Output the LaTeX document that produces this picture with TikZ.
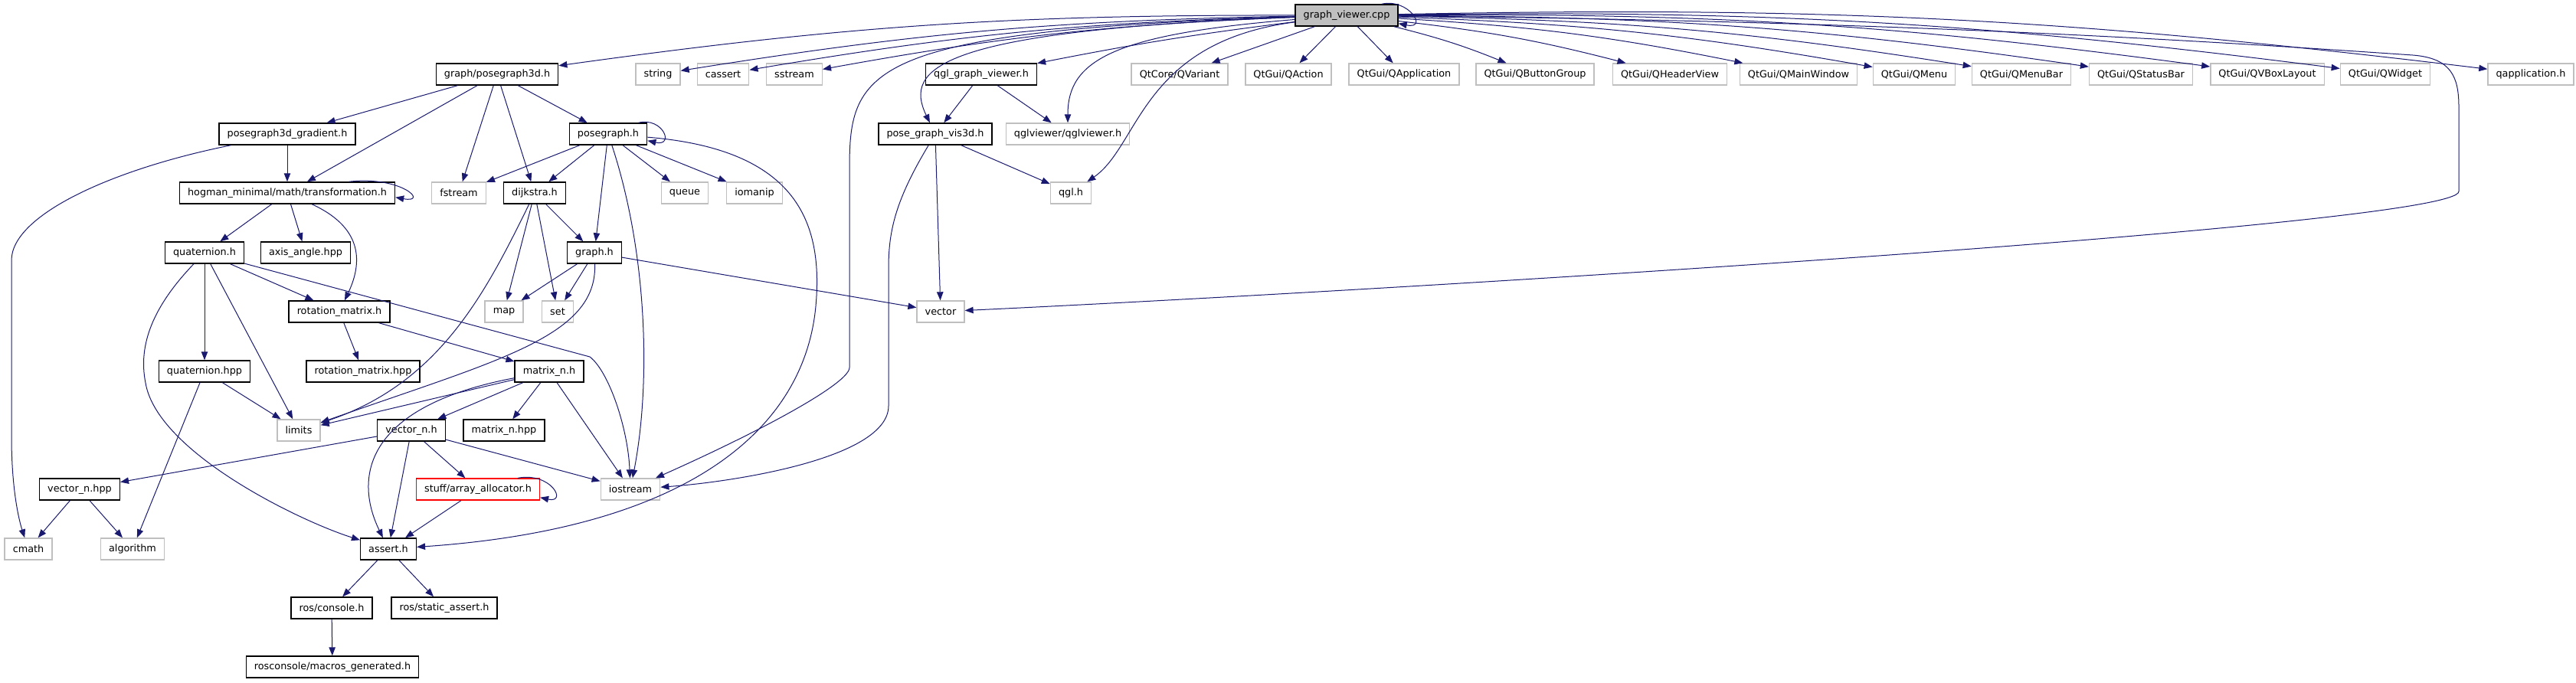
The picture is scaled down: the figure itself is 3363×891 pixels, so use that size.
\documentclass[tikz,border=0pt]{standalone}
\usepackage{fontspec}
\setmainfont{DejaVu Sans}
\usetikzlibrary{arrows.meta}
\definecolor{edgeblue}{HTML}{191970}
\definecolor{extgray}{HTML}{BFBFBF}

\begin{document}
\begin{tikzpicture}[x=0.5pt,y=-0.5pt]
\tikzstyle{every node}=[font={\fontsize{6.4}{7.7}\selectfont}, rectangle, minimum height=14pt, inner xsep=5.3pt, inner ysep=0pt]
\tikzstyle{file}=[draw=black, line width=0.7pt, fill=white]
\tikzstyle{sysfile}=[draw=extgray, line width=0.7pt, fill=white]
\tikzstyle{mainfile}=[draw=black, line width=0.7pt, fill=extgray]
\tikzstyle{badfile}=[draw=red, line width=0.7pt, fill=white]
\tikzstyle{inc}=[draw=edgeblue, line width=0.5pt, -{Triangle[length=5.5pt,width=4.2pt]}]

\useasboundingbox (0,0) rectangle (3363,891);

\node[mainfile] (gv) at (1758,20) {graph\_viewer.cpp};

\node[file] (pg3d) at (649,97) {graph/posegraph3d.h};
\node[sysfile] (string) at (859,97) {string};
\node[sysfile] (cassert) at (944,97) {cassert};
\node[sysfile] (sstream) at (1037,97) {sstream};
\node[file] (qglgv) at (1281,97) {qgl\_graph\_viewer.h};
\node[sysfile] (qvariant) at (1540,97) {QtCore/QVariant};
\node[sysfile] (qaction) at (1682,97) {QtGui/QAction};
\node[sysfile] (qapplication) at (1833,97) {QtGui/QApplication};
\node[sysfile] (qbuttongroup) at (2004,97) {QtGui/QButtonGroup};
\node[sysfile] (qheaderview) at (2180,97) {QtGui/QHeaderView};
\node[sysfile] (qmainwindow) at (2348,97) {QtGui/QMainWindow};
\node[sysfile] (qmenu) at (2499,97) {QtGui/QMenu};
\node[sysfile] (qmenubar) at (2639,97) {QtGui/QMenuBar};
\node[sysfile] (qstatusbar) at (2795,97) {QtGui/QStatusBar};
\node[sysfile] (qvboxlayout) at (2960,97) {QtGui/QVBoxLayout};
\node[sysfile] (qwidget) at (3114,97) {QtGui/QWidget};
\node[sysfile] (qapph) at (3304,97) {qapplication.h};

\node[file] (gradient) at (375,175) {posegraph3d\_gradient.h};
\node[file] (posegraph) at (794,175) {posegraph.h};
\node[file] (vis3d) at (1221,175) {pose\_graph\_vis3d.h};
\node[sysfile] (qglviewer) at (1394,175) {qglviewer/qglviewer.h};

\node[file] (transformation) at (375,252) {hogman\_minimal/math/transformation.h};
\node[sysfile] (fstream) at (599,252) {fstream};
\node[file] (dijkstra) at (698,252) {dijkstra.h};
\node[sysfile] (queue) at (894,252) {queue};
\node[sysfile] (iomanip) at (985,252) {iomanip};
\node[sysfile] (qgl) at (1398,252) {qgl.h};

\node[file] (quaternion) at (267,330) {quaternion.h};
\node[file] (axisangle) at (399,330) {axis\_angle.hpp};
\node[file] (graph) at (776,330) {graph.h};

\node[file] (rotmat) at (443,407) {rotation\_matrix.h};
\node[sysfile] (map) at (658,407) {map};
\node[sysfile] (set) at (728,407) {set};
\node[sysfile] (vector) at (1228,407) {vector};

\node[file] (quathpp) at (267,485) {quaternion.hpp};
\node[file] (rotmathpp) at (474,485) {rotation\_matrix.hpp};
\node[file] (matrixn) at (717,485) {matrix\_n.h};

\node[sysfile] (limits) at (390,562) {limits};
\node[file] (vectorn) at (537,562) {vector\_n.h};
\node[file] (matrixnhpp) at (658,562) {matrix\_n.hpp};

\node[file] (vectornhpp) at (104,639) {vector\_n.hpp};
\node[badfile] (allocator) at (624,639) {stuff/array\_allocator.h};
\node[sysfile] (iostream) at (823,639) {iostream};

\node[sysfile] (cmath) at (37,717) {cmath};
\node[sysfile] (algorithm) at (173,717) {algorithm};
\node[file] (assert) at (507,717) {assert.h};

\node[file] (console) at (433,794) {ros/console.h};
\node[file] (staticassert) at (580,794) {ros/static\_assert.h};

\node[file] (macros) at (434,871) {rosconsole/macros\_generated.h};

\draw[inc] ([xshift=-11pt]gv.north east) .. controls +(17.5pt,4pt) and +(20pt,-4pt) .. ([yshift=2pt]gv.south east);
\draw[inc] (gv) to[bend right=4] (pg3d);
\draw[inc] (gv) to[bend right=4] (string);
\draw[inc] (gv) to[bend right=4] (cassert);
\draw[inc] (gv) to[bend right=4] (sstream);
\draw[inc] (gv) to[bend right=2] (qglgv);
\draw[inc] (gv) -- (qvariant);
\draw[inc] (gv) -- (qaction);
\draw[inc] (gv) -- (qapplication);
\draw[inc] (gv) to[bend left=4] (qbuttongroup);
\draw[inc] (gv) to[bend left=4] (qheaderview);
\draw[inc] (gv) to[bend left=4] (qmainwindow);
\draw[inc] (gv) to[bend left=4] (qmenu);
\draw[inc] (gv) to[bend left=4] (qmenubar);
\draw[inc] (gv) to[bend left=4] (qstatusbar);
\draw[inc] (gv) to[bend left=4] (qvboxlayout);
\draw[inc] (gv) to[bend left=4] (qwidget);
\draw[inc] (gv) to[bend left=4] (qapph);
\draw[inc] (gv) .. controls (1220,40) and (1180,90) .. (vis3d);
\draw[inc] (gv) .. controls (1450,45) and (1394,80) .. (qglviewer);
\draw[inc] (gv) .. controls (1490,55) and (1488,190) .. (qgl);
\draw[inc] (gv) .. controls (1130,40) and (1109,90) .. (1109,220) -- (1109,480) .. controls (1109,500) and (1000,560) .. (iostream);
\draw[inc] (gv) .. controls (2500,28) and (2900,55) .. (3150,72) .. controls (3200,76) and (3210,100) .. (3210,140) -- (3210,250) .. controls (3210,295) and (1800,380) .. (vector);

\draw[inc] (pg3d) -- (gradient);
\draw[inc] (pg3d) -- (transformation);
\draw[inc] (pg3d) -- (fstream);
\draw[inc] (pg3d) -- (dijkstra);
\draw[inc] (pg3d) -- (posegraph);

\draw[inc] (gradient) -- (transformation);
\draw[inc] (gradient) .. controls (150,220) and (15,280) .. (15,340) -- (15,570) .. controls (15,640) and (25,680) .. (cmath);

\draw[inc] ([xshift=-30.5pt]transformation.north east) .. controls +(35pt,4pt) and +(22pt,-4pt) .. ([yshift=4.5pt]transformation.south east);
\draw[inc] (transformation) -- (quaternion);
\draw[inc] (transformation) -- (axisangle);
\draw[inc] (transformation) .. controls (480,300) and (470,350) .. (rotmat);

\draw[inc] (quaternion) -- (quathpp);
\draw[inc] (quaternion) -- (rotmat);
\draw[inc] (quaternion) -- (limits);
\draw[inc] (quaternion) .. controls (200,400) and (180,450) .. (190,500) .. controls (205,590) and (390,680) .. (assert);
\draw[inc] (quaternion) -- (770,466) .. controls (795,485) and (820,560) .. (iostream);

\draw[inc] (rotmat) -- (rotmathpp);
\draw[inc] (rotmat) -- (matrixn);

\draw[inc] ([xshift=-6pt]posegraph.north east) .. controls +(16pt,4pt) and +(18pt,-4pt) .. ([yshift=3pt]posegraph.south east);
\draw[inc] (posegraph) -- (fstream);
\draw[inc] (posegraph) -- (dijkstra);
\draw[inc] (posegraph) -- (graph);
\draw[inc] (posegraph) -- (queue);
\draw[inc] (posegraph) -- (iomanip);
\draw[inc] (posegraph) .. controls (845,330) and (850,500) .. (iostream);
\draw[inc] (posegraph) .. controls (1040,195) and (1075,290) .. (1065,400) .. controls (1050,560) and (900,690) .. (assert);

\draw[inc] (dijkstra) -- (graph);
\draw[inc] (dijkstra) -- (map);
\draw[inc] (dijkstra) -- (set);
\draw[inc] (dijkstra) .. controls (635,380) and (575,500) .. (limits);

\draw[inc] (graph) -- (map);
\draw[inc] (graph) -- (set);
\draw[inc] (graph) -- (vector);
\draw[inc] (graph) .. controls (780,440) and (650,470) .. (limits);

\draw[inc] (matrixn) -- (limits);
\draw[inc] (matrixn) -- (vectorn);
\draw[inc] (matrixn) -- (matrixnhpp);
\draw[inc] (matrixn) -- (iostream);
\draw[inc] (matrixn) .. controls (480,530) and (460,620) .. (assert);

\draw[inc] (vectorn) -- (vectornhpp);
\draw[inc] (vectorn) -- (assert);
\draw[inc] (vectorn) -- (allocator);
\draw[inc] (vectorn) -- (iostream);

\draw[inc] ([xshift=-14.5pt]allocator.north east) .. controls +(22pt,4pt) and +(18pt,-4pt) .. ([yshift=2pt]allocator.south east);
\draw[inc] (allocator) -- (assert);

\draw[inc] (quathpp) -- (limits);
\draw[inc] (quathpp) -- (algorithm);

\draw[inc] (vectornhpp) -- (cmath);
\draw[inc] (vectornhpp) -- (algorithm);

\draw[inc] (vis3d) -- (vector);
\draw[inc] (vis3d) -- (qgl);
\draw[inc] (vis3d) .. controls (1170,260) and (1160,300) .. (1160,350) -- (1160,530) .. controls (1160,600) and (950,630) .. (iostream);

\draw[inc] (qglgv) -- (vis3d);
\draw[inc] (qglgv) -- (qglviewer);

\draw[inc] (assert) -- (console);
\draw[inc] (assert) -- (staticassert);

\draw[inc] (console) -- (macros);
\end{tikzpicture}
\end{document}
